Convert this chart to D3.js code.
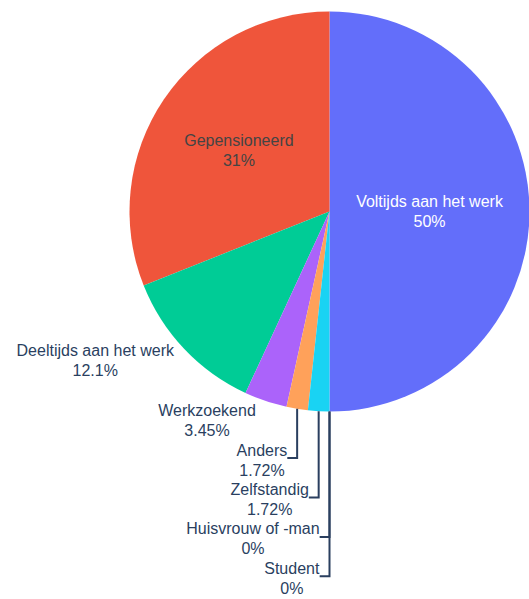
<!DOCTYPE html>
<html>
<head>
<meta charset="utf-8">
<script src="https://cdn.jsdelivr.net/npm/d3@7"></script>
<style>
  html, body { margin: 0; padding: 0; background: #fff; }
  svg { display: block; }
  text { font-family: "Liberation Sans", Arial, sans-serif; }
</style>
</head>
<body>
<svg id="chart" width="529" height="599"></svg>
<script>
// ---- data ----
const categories = ["Voltijds aan het werk", "Gepensioneerd", "Deeltijds aan het werk", "Werkzoekend", "Anders", "Zelfstandig", "Huisvrouw of -man", "Student"];
const counts = [29, 18, 7, 2, 1, 1, 0, 0];
const colors = ["#636efa", "#EF553B", "#00cc96", "#ab63fa", "#FFA15A", "#19d3f3", "#FF6692", "#B6E880"];

// ---- layout ----
const cx = 329.5, cy = 211.5, R = 200;
const fontSize = 16;
const lineGap = 20;            // distance between the two text lines
const labelH = 39.4;           // label block height used for placement
const outsideColor = "#2a3f5f";

const svg = d3.select("#chart");
const total = d3.sum(counts);
const data = categories.map((c, i) => ({ label: c, value: counts[i], color: colors[i], idx: i }));

const pie = d3.pie().sort(null).value(d => d.value).startAngle(Math.PI).endAngle(-Math.PI);
const arcs = pie(data);
const arcGen = d3.arc().innerRadius(0).outerRadius(R);

const g = svg.append("g").attr("transform", `translate(${cx},${cy})`);

g.selectAll("path.slice").data(arcs).enter().append("path")
  .attr("class", "slice")
  .attr("d", arcGen)
  .attr("fill", d => d.data.color);

function fmtPct(v) {
  const p = v / total * 100;
  return d3.format(".3~r")(p) + "%";
}

function contrast(hex) {
  const c = d3.rgb(hex);
  const l = (0.299 * c.r + 0.587 * c.g + 0.114 * c.b) / 255;
  return l < 0.5 ? "#ffffff" : "#444444";
}

function makeText(parent, lines, color) {
  const t = parent.append("text")
    .attr("font-size", fontSize)
    .attr("fill", color)
    .attr("text-anchor", "middle");
  lines.forEach((ln, i) => {
    t.append("tspan").attr("x", 0).attr("dy", i === 0 ? 0 : lineGap).text(ln);
  });
  return t;
}

const TAU = 2 * Math.PI;
const outside = [];
arcs.forEach(a => {
  const frac = a.data.value / total;
  const mid = (a.startAngle + a.endAngle) / 2;
  const halfAngle = Math.abs(a.endAngle - a.startAngle) / 2;
  const m = ((mid % TAU) + TAU) % TAU;
  const sideX = (m >= Math.PI - 1e-9) ? -1 : 1;
  const sideY = (m > Math.PI / 2 && m < 3 * Math.PI / 2) ? 1 : -1;
  const px = sideX * Math.abs(R * Math.sin(mid));
  const py = sideY * Math.abs(R * Math.cos(mid));
  const lines = [a.data.label, fmtPct(a.data.value)];
  if (frac > 0.2) {
    const rIns = Math.min(1 / (1 + 1 / Math.sin(halfAngle)), 0.5);
    const rC = 1 - rIns;
    const t = makeText(g, lines, contrast(a.data.color));
    t.attr("transform", `translate(${px * rC},${py * rC - 4.1})`);
  } else {
    const t = makeText(g, lines, outsideColor);
    const bb = t.node().getBBox();
    const dx = sideX * bb.width / 2, dy = sideY * labelH / 2;
    const ox = dx + Math.abs(dy) * sideX / 2;
    const oy = dy / (1 + (px * px) / (py * py));
    outside.push({ t, px, py, sideX, sideY, x: px + ox, y: py + oy, h: labelH, extra: 0 });
  }
});

// push overlapping labels in the lower-left quadrant downward, in drawing order
const lowerLeft = outside.filter(o => o.sideX < 0 && o.sideY > 0);
let prevBottom = -Infinity;
lowerLeft.forEach(o => {
  const top = o.y - o.h / 2;
  if (top < prevBottom) o.extra = prevBottom - top;
  prevBottom = o.y + o.extra + o.h / 2;
});

outside.forEach(o => {
  const yFinal = o.y + o.extra;
  o.t.attr("transform", `translate(${o.x},${yFinal - 2.5})`);
  if (o.extra > 0) {
    const finalX = o.h * o.sideX / 4;
    g.append("path")
      .attr("d", `M${o.px},${o.py}V${yFinal}h${finalX}`)
      .attr("fill", "none")
      .attr("stroke", outsideColor)
      .attr("stroke-width", Math.min(2, fontSize / 8));
  }
});
</script>
</body>
</html>
